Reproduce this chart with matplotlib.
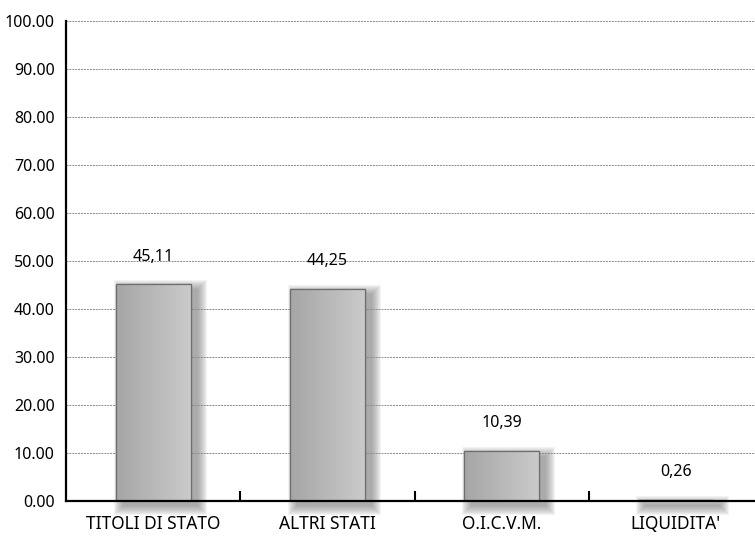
import numpy as np
import matplotlib
matplotlib.use("Agg")
import matplotlib.pyplot as plt
from matplotlib.colors import LinearSegmentedColormap

# Data
categories = ["TITOLI DI STATO", "ALTRI STATI", "O.I.C.V.M.", "LIQUIDITA'"]
values = [45.11, 44.25, 10.39, 0.26]
value_labels = ["45,11", "44,25", "10,39", "0,26"]

plt.rcParams['font.family'] = ['Noto Sans', 'DejaVu Sans']

fig = plt.figure(figsize=(7.55, 5.4), dpi=100)
ax = fig.add_axes([66 / 755, 39 / 540, 697 / 755, 480 / 540])

x = np.arange(len(categories))
bars = ax.bar(x, values, width=0.43, color='#b2b2b2', edgecolor='#6e6e6e',
              linewidth=0.9, zorder=3)

ax.set_xlim(-0.5, 3.5)
ax.set_ylim(0, 100)

# pixel size in data units (for the soft shadow)
px_x = 4.0 / (ax.get_position().width * fig.bbox.width)
px_y = 100.0 / (ax.get_position().height * fig.bbox.height)

# gradient fill
grad_cmap = LinearSegmentedColormap.from_list('g', ['#a6a6a6', '#b8b8b8', '#cacaca'])
grad = np.linspace(0, 1, 64).reshape(1, -1)

for b in bars:
    x0, y0 = b.get_x(), b.get_y()
    w, h = b.get_width(), b.get_height()
    if h > 0.5:
        im = ax.imshow(grad, cmap=grad_cmap, extent=(x0, x0 + w, y0, y0 + h),
                       aspect='auto', zorder=3.1, interpolation='bilinear')
        im.set_clip_path(b)
    # blurred shadow, shifted right and down
    sdx, sdy = 7 * px_x, -5 * px_y
    for k in range(10):
        px = float(k)
        r = plt.Rectangle((x0 + sdx - px * px_x, y0 + sdy - px * px_y),
                          w + 2 * px * px_x, h + 2 * px * px_y,
                          facecolor='#6a6a6a', edgecolor='none', alpha=0.075,
                          zorder=0.3, clip_on=False)
        ax.add_patch(r)
    r = plt.Rectangle((x0, y0), w, h, fill=False, edgecolor='#6e6e6e',
                      linewidth=0.9, zorder=3.2)
    ax.add_patch(r)

for b, lab in zip(bars, value_labels):
    ax.annotate(lab, (b.get_x() + b.get_width() / 2, b.get_height()),
                xytext=(0, 20), textcoords='offset points',
                ha='center', va='center', fontsize=11.5)

ax.set_xlim(-0.5, 3.5)
ax.set_ylim(0, 100)
ax.set_yticks(np.arange(0, 101, 10))
ax.set_yticklabels([f"{v:.2f}" for v in np.arange(0, 101, 10)], fontsize=11.5)
ax.set_xticks(x)
ax.set_xticklabels(categories, fontsize=12.5)
ax.set_xticks(x[:-1] + 0.5, minor=True)
ax.tick_params(axis='x', which='major', length=0, pad=10)
ax.tick_params(axis='x', which='minor', direction='in', length=7, width=1.5)
ax.tick_params(axis='y', length=0, pad=8)

ax.yaxis.grid(True, color='#8a8a8a', linestyle=(0, (2, 1)), linewidth=0.7)
ax.set_axisbelow(True)
for s in ['top', 'right']:
    ax.spines[s].set_visible(False)
ax.spines['left'].set_linewidth(1.6)
ax.spines['bottom'].set_linewidth(1.6)
ax.spines['bottom'].set_zorder(4)

fig.savefig('out.png', dpi=100)
